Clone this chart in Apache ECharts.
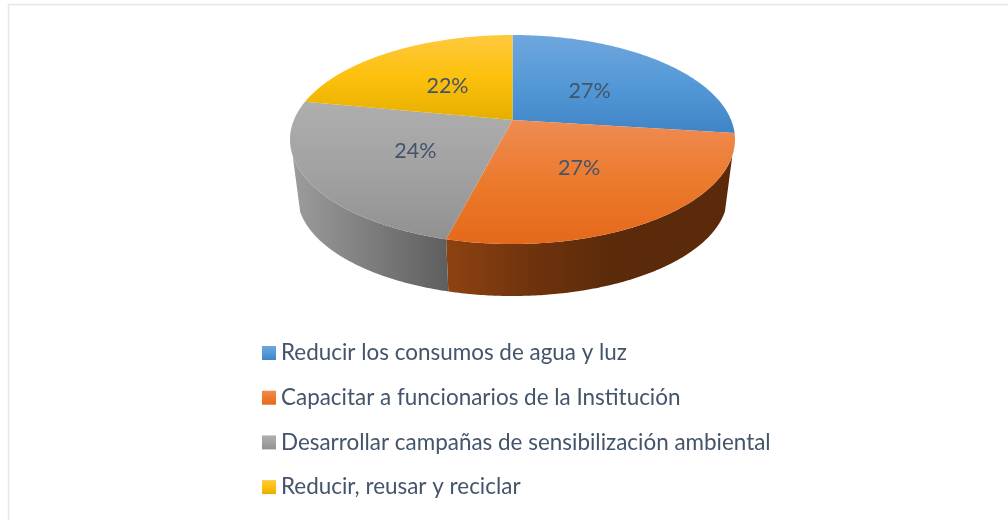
<!DOCTYPE html>
<html><head><meta charset="utf-8">
<style>html,body{margin:0;padding:0;background:#fff}#c{width:1008px;height:520px}</style>
<script src="https://cdn.jsdelivr.net/npm/echarts@6/dist/echarts.min.js"></script>
</head><body><div id="c"></div>
<script>
const categories = ['Reducir los consumos de agua y luz','Capacitar a funcionarios de la Institución','Desarrollar campañas de sensibilización ambiental','Reducir, reusar y reciclar'];
const values = [27,27,24,22];
const faceStops = [['#6fa6dd','#5499d7','#3f84c5'],['#ef8b52','#ec7a2d','#e5691a'],['#aeaeae','#a2a2a2','#919191'],['#fec93f','#fdc00c','#e5af00']];
const wallStops = [['#24527e','#24527e','#24527e'],['#8e4211','#6f330d','#5a2a0a'],['#9c9c9c','#7d7d7d','#5e5e5e'],['#8a6a00','#8a6a00','#8a6a00']];

const TOP = {cx:512.5, cy:139.5, rx:222.5, ry:104.5};
const BOT = {cx:512.5, cy:196, rx:215, ry:100};
const P = 0.187;
const SILHOUETTE = -0.15;
const LABEL_R = 0.5;
const LABEL_DY = 2.5;
const total = values.reduce((a,b)=>a+b,0);

function disk(a, r){
  const u = r*Math.sin(a), v = r*Math.cos(a), d = 1+P*v;
  return [u*Math.sqrt(1-P*P)/d, (v+P)/d];
}
function proj(a, e, r){
  const q = disk(a, r);
  return [e.cx+e.rx*q[0], e.cy-e.ry*q[1]];
}
function stops(c){return [{offset:0,color:c[0]},{offset:0.5,color:c[1]},{offset:1,color:c[2]}];}
function linear(x0,y0,x1,y1,c){return {type:'linear',global:true,x:x0,y:y0,x2:x1,y2:y1,colorStops:stops(c)};}

function makeRender(i){
  const start = values.slice(0,i).reduce((a,b)=>a+b,0)/total*2*Math.PI;
  const end = start + values[i]/total*2*Math.PI;
  return function(){
    const topArc=[], wallTop=[], wallBot=[], n=160;
    for(let k=0;k<=n;k++){
      const a=start+(end-start)*k/n;
      topArc.push(proj(a,TOP,1));
      if(disk(a,1)[1]<=SILHOUETTE){ wallTop.push(proj(a,TOP,1)); wallBot.push(proj(a,BOT,1)); }
    }
    const apex=proj(0,TOP,0);
    const ys=topArc.concat([apex]).map(p=>p[1]);
    const y0=Math.min(...ys),y1=Math.max(...ys);
    const lp=proj((start+end)/2,TOP,LABEL_R);
    const children=[
      {type:'polygon',z2:10,shape:{points:topArc.concat([apex])},style:{fill:linear(0,y0,0,y1,faceStops[i])}},
      {type:'text',z2:20,style:{text:Math.round(values[i]/total*100)+'%',x:lp[0],y:lp[1]+LABEL_DY,align:'center',verticalAlign:'middle',font:'21.5px Lato',fill:'#44546a'}}
    ];
    if(wallTop.length>1){
      const wx=wallTop.concat(wallBot).map(p=>p[0]);
      const xa=Math.min(...wx), xb=Math.max(...wx);
      children.unshift({type:'polygon',z2:1,shape:{points:wallTop.concat(wallBot.slice().reverse())},
        style:{fill:linear(xa,0,xa+(xb-xa)*(i===1?0.6:1),0,wallStops[i])}});
    }
    return {type:'group',children};
  };
}
const chart = echarts.init(document.getElementById('c'),null,{renderer:'canvas'});
chart.setOption({
  animation:false,
  backgroundColor:'#ffffff',
  graphic:[{type:'polyline',z:0,shape:{points:[[8.5,520],[8.5,4.5],[1008,4.5]]},style:{stroke:'#e2e6ed',lineWidth:1.5,fill:null}}],
  legend:{orient:'vertical',left:262,top:341,padding:0,itemWidth:14,itemHeight:14,itemGap:20.7,icon:'rect',
    data:categories,
    textStyle:{color:'#44546a',fontFamily:'Lato',fontSize:22.45,lineHeight:24}},
  series:categories.map((name,i)=>({
    type:'custom',name,coordinateSystem:'none',silent:true,
    data:[values[i]],
    itemStyle:{color:{type:'linear',x:0,y:0,x2:0,y2:1,colorStops:stops(faceStops[i])}},
    renderItem:makeRender(i)
  }))
});
</script></body></html>
